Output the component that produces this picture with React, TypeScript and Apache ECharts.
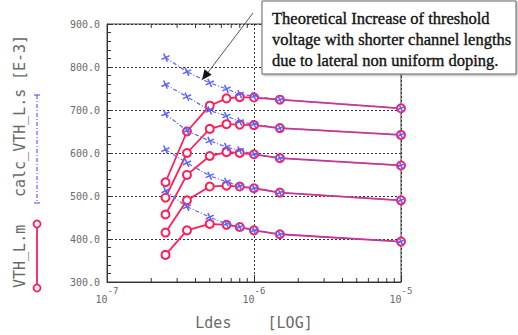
import React, { useEffect, useRef } from "react";
import * as echarts from "echarts";

const lengths = [2.5e-7, 3.5e-7, 5e-7, 6.5e-7, 8e-7, 1e-6, 1.5e-6, 1e-5];

const measured1 = [532, 650, 710, 727, 730, 729, 724, 704];
const measured2 = [496, 600, 656, 667, 666, 665, 658, 642];
const measured3 = [457, 549, 593, 602, 600, 597, 588, 571];
const measured4 = [415, 490, 522, 524, 522, 518, 508, 490];
const measured5 = [363, 420, 435, 433, 428, 420, 411, 394];

const calc1 = [822, 789, 763, 749, 737, 732, 724, 704];
const calc2 = [759, 731, 699, 686, 673, 667, 658, 642];
const calc3 = [691, 652, 628, 614, 606, 597, 588, 571];
const calc4 = [608, 577, 547, 533, 523, 518, 508, 490];
const calc5 = [512, 475, 451, 435, 428, 420, 411, 394];

const xMinorTicks = [
  2e-7, 3e-7, 4e-7, 5e-7, 6e-7, 7e-7, 8e-7, 9e-7,
  2e-6, 3e-6, 4e-6, 5e-6, 6e-6, 7e-6, 8e-6, 9e-6,
];

const annotationLines = [
  "Theoretical Increase of threshold",
  "voltage with shorter channel lengths",
  "due to lateral non uniform doping.",
];

const RED = "#ff1f58";
const BLUE = "#5a62ff";
const GRAY = "#6a6a6a";
const MONO = "DejaVu Sans Mono, monospace";

export default function App() {
  const ref = useRef<HTMLDivElement>(null);

  useEffect(() => {
    if (!ref.current) return;
    const chart = echarts.init(ref.current, undefined, { renderer: "svg" });

    const pairs = (ys: number[]) => lengths.map((x, i) => [x, ys[i]]);
    const measured = [measured1, measured2, measured3, measured4, measured5];
    const calcs = [calc1, calc2, calc3, calc4, calc5];

    const redSeries = measured.map((ys) => ({
      type: "line",
      data: pairs(ys),
      symbol: "emptyCircle",
      symbolSize: 8,
      lineStyle: { color: RED, width: 1.8 },
      itemStyle: { color: RED, borderColor: RED, borderWidth: 1.8 },
      z: 3,
    }));

    const blueSeries = calcs.map((ys) => ({
      type: "line",
      data: pairs(ys),
      symbol: "path://M5,0L5,10M0,5L10,5",
      symbolSize: 9,
      symbolRotate: 25,
      lineStyle: { color: BLUE, width: 1.2, type: [4, 2, 1, 2] },
      itemStyle: { color: "none", borderColor: BLUE, borderWidth: 1.5 },
      z: 4,
    }));

    const tickSeries = {
      type: "custom",
      data: xMinorTicks.map((v) => [v]),
      silent: true,
      z: 5,
      renderItem: (_params: any, api: any) => {
        const x = api.value(0);
        const pb = api.coord([x, 300]);
        const pt = api.coord([x, 900]);
        return {
          type: "group",
          children: [
            {
              type: "line",
              shape: { x1: pb[0], y1: pb[1], x2: pb[0], y2: pb[1] - 4 },
              style: { stroke: "#333", lineWidth: 1 },
            },
            {
              type: "line",
              shape: { x1: pt[0], y1: pt[1], x2: pt[0], y2: pt[1] + 4 },
              style: { stroke: "#333", lineWidth: 1 },
            },
          ],
        };
      },
    };

    const sideText = (text: string, bottomY: number) => ({
      type: "text",
      x: 20,
      y: bottomY,
      rotation: Math.PI / 2,
      style: {
        text,
        fontFamily: MONO,
        fontSize: 15,
        fill: GRAY,
        align: "left",
        verticalAlign: "middle",
      },
    });

    const tip: [number, number] = [202, 80];
    const option: any = {
      animation: false,
      backgroundColor: "#ffffff",
      grid: {
        left: 107,
        top: 24,
        right: 117,
        bottom: 40,
        show: true,
        borderColor: "#444",
        borderWidth: 1,
      },
      xAxis: {
        type: "log",
        logBase: 10,
        min: 1e-7,
        max: 1e-5,
        name: "Ldes    [LOG]",
        nameLocation: "middle",
        nameGap: 33,
        nameTextStyle: { fontFamily: MONO, fontSize: 15, color: GRAY },
        axisLine: { show: true, lineStyle: { color: "#333" } },
        axisTick: { show: true, inside: true, length: 7, lineStyle: { color: "#333" } },
        splitLine: { show: true, lineStyle: { color: "#333", type: [2, 2] } },
        axisLabel: {
          margin: 4,
          formatter: (v: number) => `{b|10}{s|${Math.round(Math.log10(v))}}`,
          rich: {
            b: { fontFamily: MONO, fontSize: 10, color: GRAY, lineHeight: 18, verticalAlign: "bottom" },
            s: { fontFamily: MONO, fontSize: 9, color: GRAY, lineHeight: 18, verticalAlign: "top" },
          },
        },
      },
      yAxis: {
        type: "value",
        min: 300,
        max: 900,
        interval: 100,
        axisLine: { show: true, lineStyle: { color: "#333" } },
        axisTick: { show: true, inside: true, length: 4, lineStyle: { color: "#333" } },
        minorTick: { show: true, splitNumber: 5, length: 4, lineStyle: { color: "#333" } },
        splitLine: { show: true, lineStyle: { color: "#333", type: [2, 2] } },
        axisLabel: {
          margin: 7,
          fontFamily: MONO,
          fontSize: 10,
          color: GRAY,
          formatter: (v: number) => v.toFixed(1),
        },
      },
      series: [...redSeries, ...blueSeries, tickSeries],
      graphic: [
        sideText("[E-3]", 80),
        sideText("calc_VTH_L.s", 197),
        sideText("VTH_L.m", 288),
        {
          type: "line",
          shape: { x1: 37, y1: 95, x2: 37, y2: 203 },
          style: { stroke: BLUE, lineWidth: 1.2, lineDash: [4, 2, 1, 2] },
        },
        { type: "line", shape: { x1: 34, y1: 95, x2: 40, y2: 95 }, style: { stroke: BLUE, lineWidth: 1.2 } },
        { type: "line", shape: { x1: 34, y1: 203, x2: 40, y2: 203 }, style: { stroke: BLUE, lineWidth: 1.2 } },
        {
          type: "line",
          shape: { x1: 37, y1: 224, x2: 37, y2: 288 },
          style: { stroke: RED, lineWidth: 1.8 },
        },
        { type: "circle", shape: { cx: 37, cy: 224, r: 3.5 }, style: { stroke: RED, fill: "#fff", lineWidth: 1.8 } },
        { type: "circle", shape: { cx: 37, cy: 288, r: 3.5 }, style: { stroke: RED, fill: "#fff", lineWidth: 1.8 } },
        {
          type: "line",
          shape: { x1: 253, y1: 13, x2: 206, y2: 75 },
          style: { stroke: "#555", lineWidth: 1 },
          z: 10,
        },
        {
          type: "polygon",
          shape: { points: [tip, [211.6, 74.7], [204.5, 69.3]] },
          style: { fill: "#111" },
          z: 10,
        },
        {
          type: "rect",
          shape: { x: 262, y: 1, width: 254, height: 73 },
          style: {
            fill: "#fff",
            stroke: "#666",
            lineWidth: 1,
            shadowBlur: 2,
            shadowOffsetX: 1,
            shadowOffsetY: 1,
            shadowColor: "rgba(0,0,0,0.35)",
          },
          z: 10,
        },
        ...annotationLines.map((t, i) => ({
          type: "text",
          x: 272,
          y: 18 + i * 21,
          z: 11,
          style: {
            text: t,
            fontFamily: "Liberation Serif, serif",
            fontSize: 16.5,
            fill: "#111",
            stroke: "#111",
            lineWidth: 0.35,
            align: "left",
            verticalAlign: "middle",
          },
        })),
      ],
    };

    chart.setOption(option);
    return () => chart.dispose();
  }, []);

  return (
    <div
      ref={ref}
      style={{ position: "absolute", left: 0, top: 0, width: 518, height: 335 }}
    />
  );
}
